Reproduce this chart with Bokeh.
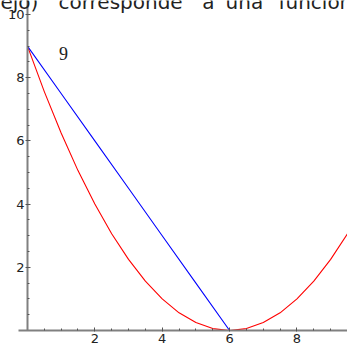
from bokeh.plotting import figure
from bokeh.models import Range1d, FixedTicker, Label
from bokeh.embed import file_html
from bokeh.resources import INLINE
import numpy as np

# data
red_x = [0, 0.5, 1, 1.5, 2, 2.5, 3, 3.5, 4, 4.5, 5, 5.5, 6, 6.5, 7, 7.5, 8, 8.5, 9, 9.5]
red_y = [9, 7.56, 6.25, 5.06, 4.0, 3.06, 2.25, 1.56, 1.0, 0.56, 0.25, 0.06, 0.0, 0.06, 0.25, 0.56, 1.0, 1.56, 2.25, 3.06]
blue_x = [0, 1, 2, 3, 4, 5, 6]
blue_y = [9, 7.5, 6, 4.5, 3, 1.5, 0]
x_ticks = [2, 4, 6, 8]
y_ticks = [2, 4, 6, 8, 10]
point_label = "9"
top_words = ["ejo)", "corresponde", "a", "una", "función"]
top_word_x = [-0.80, 0.92, 5.19, 5.88, 7.45]

p = figure(width=347, height=347, output_backend="svg", toolbar_location=None,
           x_range=Range1d(-0.80, 9.50), y_range=Range1d(-0.538, 10.443),
           min_border_left=0, min_border_right=0, min_border_top=0, min_border_bottom=0)
p.outline_line_color = None
p.grid.visible = False
p.background_fill_color = "white"
p.border_fill_color = "white"

p.line(red_x, red_y, line_color="#ff0000", line_width=1.1)
p.line(blue_x, blue_y, line_color="#0000ff", line_width=1.1)

xa = p.xaxis[0]
ya = p.yaxis[0]
xa.fixed_location = 0
ya.fixed_location = 0
xa.bounds = (-0.27, 9.5)
ya.bounds = (0, 10.443)
xa.ticker = FixedTicker(ticks=x_ticks, minor_ticks=list(np.arange(0.5, 9.6, 0.5)))
ya.ticker = FixedTicker(ticks=y_ticks, minor_ticks=list(np.arange(0.5, 10.1, 0.5)))
for ax in (xa, ya):
    ax.axis_line_color = "#808080"
    ax.axis_line_width = 2
    ax.major_tick_line_color = "#555555"
    ax.minor_tick_line_color = "#555555"
    ax.major_tick_in = 3
    ax.major_tick_out = 2
    ax.minor_tick_in = 2
    ax.minor_tick_out = 0
    ax.major_label_text_font = "DejaVu Sans"
    ax.major_label_text_font_size = "13px"
    ax.major_label_text_color = "#222222"
xa.major_tick_out = 1
xa.major_label_standoff = 3
ya.major_label_standoff = 1

p.add_layout(Label(x=1.07, y=8.75, text=point_label, text_font="Liberation Serif",
                   text_font_size="18px", text_color="#222222",
                   text_align="center", text_baseline="middle"))
for word, wx in zip(top_words, top_word_x):
    p.add_layout(Label(x=wx, y=10.41, text=word, text_font="DejaVu Sans",
                       text_font_size="20px", text_color="#222222",
                       text_align="left", text_baseline="alphabetic"))

open("out.html", "w").write(file_html(p, INLINE))
